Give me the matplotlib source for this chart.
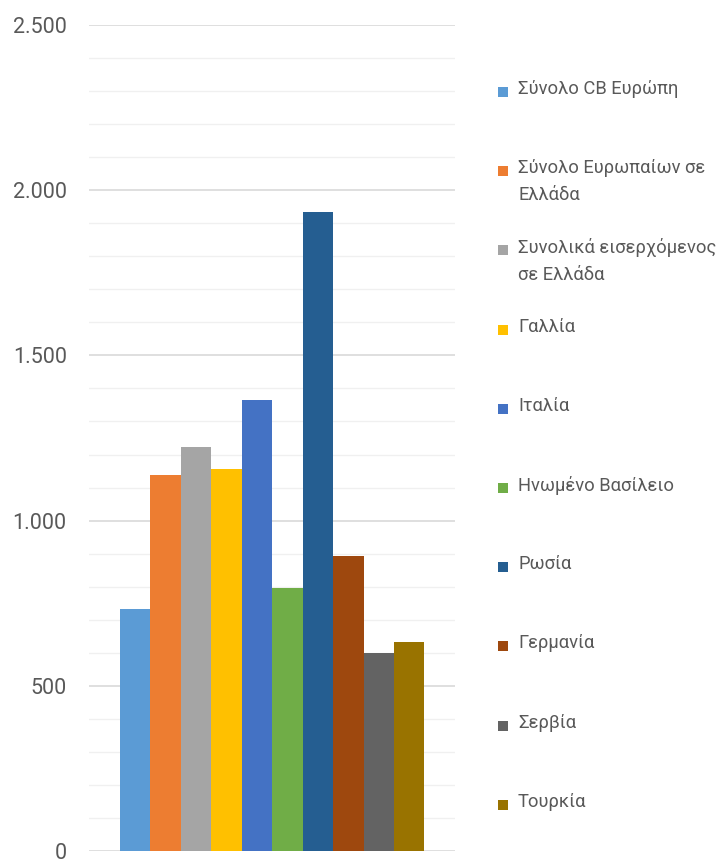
import numpy as np
import matplotlib.pyplot as plt
from matplotlib.patches import Rectangle

# data
labels = ["Σύνολο CB Ευρώπη", "Σύνολο Ευρωπαίων σε\nΕλλάδα", "Συνολικά εισερχόμενος\nσε Ελλάδα",
          "Γαλλία", "Ιταλία", "Ηνωμένο Βασίλειο", "Ρωσία", "Γερμανία", "Σερβία", "Τουρκία"]
values = [731, 1137, 1222, 1156, 1364, 797, 1933, 892, 598, 632]
colors = ["#5B9BD5", "#ED7D31", "#A5A5A5", "#FFC000", "#4472C4",
          "#70AD47", "#255E91", "#9E480E", "#636363", "#997300"]
yticks = [0, 500, 1000, 1500, 2000, 2500]
ytick_labels = ["0", "500", "1.000", "1.500", "2.000", "2.500"]

plt.rcParams['font.family'] = ['Roboto', 'DejaVu Sans']

fig = plt.figure(figsize=(7.22, 8.59), dpi=100)
ax = fig.add_axes([0.1233, 0.0093, 0.5069, 0.9616])

n = len(values)
w = 0.8333 / n
x = (np.arange(n) - (n - 1) / 2) * w
ax.bar(x, values, width=w, color=colors, zorder=3)

ax.set_xlim(-0.5, 0.5)
ax.set_ylim(0, 2500)
ax.set_yticks(yticks)
ax.set_yticklabels(ytick_labels, fontsize=15.5, color="#595959")
ax.set_yticks(np.arange(0, 2501, 100), minor=True)
ax.grid(which="major", axis="y", color="#d9d9d9", linewidth=1.2, zorder=0)
ax.grid(which="minor", axis="y", color="#f0f0f0", linewidth=1.0, zorder=0)
ax.tick_params(axis="y", which="both", length=0, pad=16)
ax.set_xticks([])
for s in ax.spines.values():
    s.set_visible(False)

# legend drawn by hand: handle aligned with first text line
for i, (lab, c) in enumerate(zip(labels, colors)):
    ypix = 92 + i * 79.2
    yf = 1 - ypix / 859
    fig.patches.append(Rectangle((498 / 722, yf - 5 / 859), 10 / 722, 10 / 859,
                                 transform=fig.transFigure, facecolor=c, edgecolor="none"))
    fig.text(518 / 722, yf + 12 / 859, lab, fontsize=13.2, color="#595959",
             va="top", ha="left", linespacing=1.6)

fig.savefig("out.png", dpi=100)
